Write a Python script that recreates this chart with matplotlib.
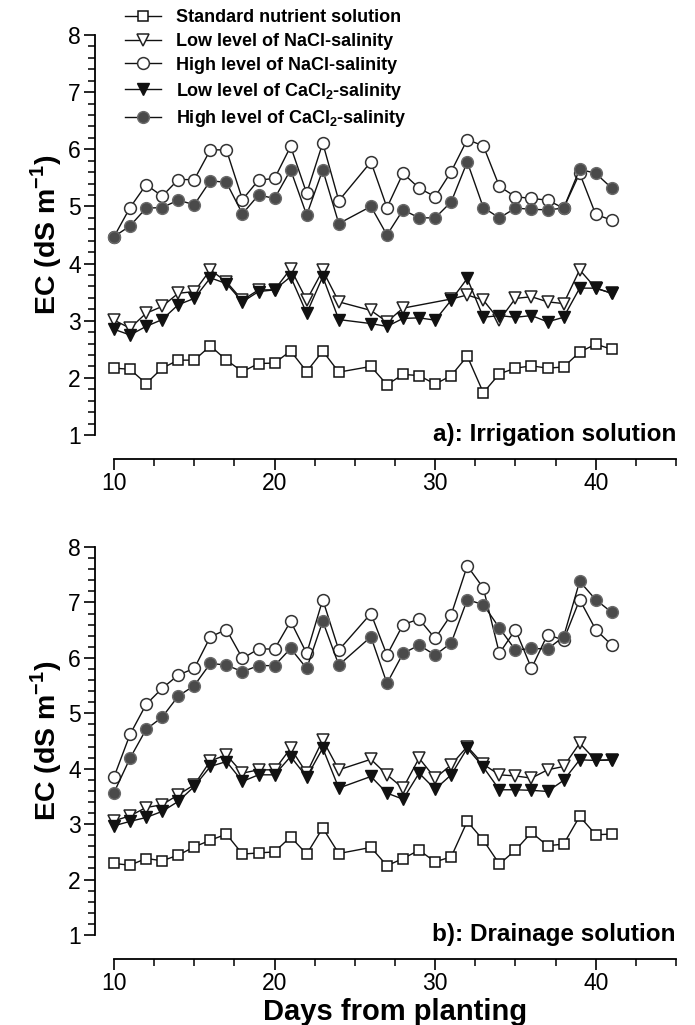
import numpy as np
import matplotlib
matplotlib.use("Agg")
import matplotlib.pyplot as plt
from matplotlib.ticker import MultipleLocator

plt.rcParams['font.family'] = ['Liberation Sans', 'DejaVu Sans']
plt.rcParams['mathtext.fontset'] = 'custom'
plt.rcParams['mathtext.rm'] = 'Liberation Sans'
plt.rcParams['mathtext.bf'] = 'Liberation Sans:bold'

nan = np.nan

# --- DATA (EC, dS m-1) ---
days_irr = [10, 11, 12, 13, 14, 15, 16, 17, 18, 19, 20, 21, 22, 23, 24,
            26, 27, 28, 29, 30, 31, 32, 33, 34, 35, 36, 37, 38, 39, 40, 41]

irr_standard = [2.17, 2.15, 1.90, 2.17, 2.31, 2.31, 2.56, 2.31, 2.11, 2.25, 2.26, 2.47, 2.11, 2.47, 2.10,
                2.20, 1.88, 2.06, 2.04, 1.89, 2.04, 2.38, 1.74, 2.07, 2.17, 2.21, 2.17, 2.19, 2.45, 2.59, 2.50]
irr_low_nacl = [3.01, 2.87, 3.13, 3.25, 3.48, 3.51, 3.89, 3.68, 3.36, 3.54, 3.54, 3.91, 3.36, 3.88, 3.33,
                3.18, 2.98, 3.22, nan, nan, 3.38, 3.45, 3.36, 3.01, 3.39, 3.42, 3.33, 3.30, 3.89, 3.57, 3.48]
irr_high_nacl = [4.47, 4.98, 5.38, 5.18, 5.47, 5.47, 5.99, 5.99, 5.12, 5.46, 5.49, 6.05, 5.23, 6.11, 5.10,
                 5.78, 4.98, 5.58, 5.32, 5.17, 5.61, 6.17, 6.06, 5.35, 5.17, 5.14, 5.11, 4.97, 5.58, 4.86, 4.76]
irr_low_cacl2 = [2.85, 2.75, 2.90, 3.02, 3.28, 3.39, 3.75, 3.65, 3.33, 3.51, 3.54, 3.77, 3.13, 3.77, 3.02,
                 2.95, 2.90, 3.04, 3.05, 3.01, 3.36, 3.74, 3.06, 3.09, 3.06, 3.09, 2.98, 3.06, 3.57, 3.57, 3.48]
irr_high_cacl2 = [4.47, 4.66, 4.97, 4.98, 5.11, 5.03, 5.45, 5.42, 4.87, 5.20, 5.14, 5.64, 4.85, 5.64, 4.70,
                  5.00, 4.50, 4.94, 4.80, 4.80, 5.08, 5.78, 4.98, 4.80, 4.97, 4.95, 4.94, 4.97, 5.65, 5.58, 5.32]

days_dra = days_irr

dra_standard = [2.29, 2.26, 2.38, 2.34, 2.44, 2.59, 2.71, 2.82, 2.46, 2.48, 2.50, 2.77, 2.46, 2.93, 2.47,
                2.58, 2.25, 2.38, 2.53, 2.32, 2.41, 3.05, 2.71, 2.28, 2.53, 2.85, 2.61, 2.64, 3.14, 2.81, 2.82]
dra_low_nacl = [3.06, 3.15, 3.30, 3.35, 3.53, 3.71, 4.14, 4.25, 3.92, 3.98, 3.98, 4.37, 3.92, 4.52, 3.98,
                4.17, 3.89, 3.65, 4.19, 3.83, 4.07, 4.40, 4.08, 3.89, 3.87, 3.83, 3.98, 4.04, 4.46, 4.15, 4.16]
dra_high_nacl = [3.85, 4.62, 5.16, 5.45, 5.69, 5.81, 6.38, 6.51, 5.99, 6.16, 6.16, 6.66, 6.08, 7.05, 6.14,
                 6.80, 6.05, 6.60, 6.70, 6.35, 6.78, 7.66, 7.26, 6.08, 6.51, 5.81, 6.42, 6.32, 7.05, 6.51, 6.23]
dra_low_cacl2 = [2.97, 3.05, 3.12, 3.23, 3.41, 3.68, 4.04, 4.13, 3.77, 3.89, 3.89, 4.22, 3.85, 4.37, 3.65,
                 3.86, 3.56, 3.45, 3.92, 3.63, 3.89, 4.37, 4.03, 3.62, 3.62, 3.61, 3.59, 3.79, 4.16, 4.15, 4.16]
dra_high_cacl2 = [3.57, 4.19, 4.71, 4.93, 5.31, 5.50, 5.90, 5.87, 5.75, 5.86, 5.86, 6.17, 5.81, 6.66, 5.87,
                  6.38, 5.54, 6.08, 6.23, 6.05, 6.27, 7.05, 6.96, 6.54, 6.14, 6.17, 6.16, 6.38, 7.38, 7.05, 6.82]

labels = ["Standard nutrient solution",
          "Low level of NaCl-salinity",
          "High level of NaCl-salinity",
          r"Low level of CaCl$_{\mathbf{2}}$-salinity",
          r"High level of CaCl$_{\mathbf{2}}$-salinity"]

# marker styles per treatment (same order as labels)
styles = [dict(marker='s', ms=6.5, mfc='white', mec='#111111', mew=1.1),
          dict(marker='v', ms=8, mfc='white', mec='#222222', mew=1.1),
          dict(marker='o', ms=8.5, mfc='white', mec='#333333', mew=1.1),
          dict(marker='v', ms=8, mfc='#111111', mec='#111111', mew=1.0),
          dict(marker='o', ms=8.5, mfc='#4a4a4a', mec='#6a6a6a', mew=1.0)]

W, H = 695, 1025
fig = plt.figure(figsize=(W / 100, H / 100), dpi=100)
ax_top = fig.add_axes([114 / W, 1 - 435 / H, 562 / W, 400 / H])
ax_bot = fig.add_axes([114 / W, 1 - 935 / H, 562 / W, 388 / H])

panels = [
    (ax_top, days_irr, [irr_standard, irr_low_nacl, irr_high_nacl, irr_low_cacl2, irr_high_cacl2],
     "a): Irrigation solution"),
    (ax_bot, days_dra, [dra_standard, dra_low_nacl, dra_high_nacl, dra_low_cacl2, dra_high_cacl2],
     "b): Drainage solution"),
]

handles = []
for ax, days, series, title in panels:
    for vals, st, lab in zip(series, styles, labels):
        x = np.array(days, dtype=float)
        y = np.array(vals, dtype=float)
        ok = ~np.isnan(y)
        h, = ax.plot(x[ok], y[ok], color='#111111', lw=1.0, label=lab, clip_on=False, **st)
        if ax is ax_top:
            handles.append(h)

    ax.set_xlim(10, 45)
    ax.set_ylim(1, 8)
    for s in ['top', 'right']:
        ax.spines[s].set_visible(False)
    ax.spines['left'].set_position(('outward', 14))
    ax.spines['bottom'].set_position(('outward', 17))
    ax.spines['left'].set_linewidth(1.3)
    ax.spines['bottom'].set_linewidth(1.3)
    ax.xaxis.set_major_locator(MultipleLocator(10))
    ax.xaxis.set_minor_locator(MultipleLocator(2.5))
    ax.yaxis.set_major_locator(MultipleLocator(1))
    ax.yaxis.set_minor_locator(MultipleLocator(0.2))
    ax.tick_params(which='major', direction='out', length=8, width=1.2, labelsize=16.5, pad=2)
    ax.tick_params(which='minor', direction='out', length=5, width=1.1)
    ax.set_ylabel(r"EC (dS m$^{\mathbf{-1}}$)", fontsize=20.5, fontweight='bold', labelpad=3)
    ax.text(1.0, 0.0, title, transform=ax.transAxes, ha='right', va='center',
            fontsize=17.5, fontweight='bold')

ax_bot.set_xlabel("Days from planting", fontsize=21, fontweight='bold', labelpad=2)

fig.legend(handles=handles, loc='upper left', bbox_to_anchor=(125 / W, 1 - 9 / H),
           frameon=False, prop={'weight': 'bold', 'size': 13}, borderpad=0,
           borderaxespad=0, handlelength=2.0, handletextpad=0.8, labelspacing=0.38)

fig.savefig("out.png", dpi=100)
